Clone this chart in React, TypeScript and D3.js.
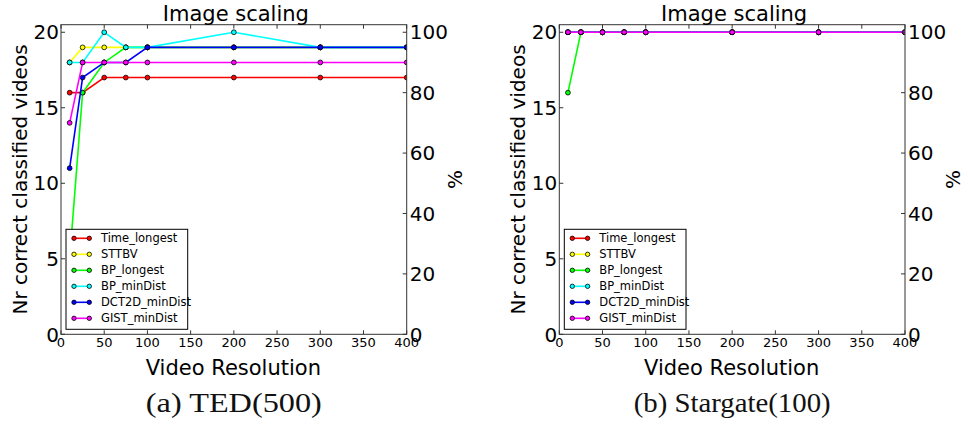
import * as d3 from 'd3';

// x positions (video resolution) shared by every series
const resolutions = [10, 25, 50, 75, 100, 200, 300, 400];
const seriesNames = ['Time_longest', 'STTBV', 'BP_longest', 'BP_minDist', 'DCT2D_minDist', 'GIST_minDist'];
const seriesColors = ['#ff0000', '#ffff00', '#00ff00', '#00ffff', '#0000ff', '#ff00ff'];

// (a) TED(500)
const tedTimeLongest = [16, 16, 17, 17, 17, 17, 17, 17];
const tedSTTBV = [18, 19, 19, 19, 19, 19, 19, 19];
const tedBPLongest = [5, 16, 18, 19, 19, 19, 19, 19];
const tedBPMinDist = [18, 18, 20, 19, 19, 20, 19, 19];
const tedDCT2DMinDist = [11, 17, 18, 18, 19, 19, 19, 19];
const tedGISTMinDist = [14, 18, 18, 18, 18, 18, 18, 18];

// (b) Stargate(100)
const sgTimeLongest = [20, 20, 20, 20, 20, 20, 20, 20];
const sgSTTBV = [20, 20, 20, 20, 20, 20, 20, 20];
const sgBPLongest = [16, 20, 20, 20, 20, 20, 20, 20];
const sgBPMinDist = [20, 20, 20, 20, 20, 20, 20, 20];
const sgDCT2DMinDist = [20, 20, 20, 20, 20, 20, 20, 20];
const sgGISTMinDist = [20, 20, 20, 20, 20, 20, 20, 20];

const xTicks = [0, 50, 100, 150, 200, 250, 300, 350, 400];
const yTicks = [0, 5, 10, 15, 20];
const pctTicks = [0, 20, 40, 60, 80, 100];

const sans = 'DejaVu Sans, sans-serif';

interface PanelProps {
  left: number;
  series: number[][];
  caption: string;
  captionLength: number;
}

function Panel({ left, series, caption, captionLength }: PanelProps) {
  const right = left + 345.7;
  const top = 24.7;
  const bottom = 334.3;
  const x = d3.scaleLinear().domain([0, 400]).range([left, right]);
  const y = d3.scaleLinear().domain([0, 20.5]).range([bottom, top]);
  const yPct = d3.scaleLinear().domain([0, 102.5]).range([bottom, top]);
  const line = d3.line<number>()
    .x((_, i) => x(resolutions[i]))
    .y(d => y(d));
  const cx = (left + right) / 2;
  const tick = 4;

  // legend layout
  const lgX = left + 5;
  const lgY = 229.3;
  const lgW = 121.7;
  const lgH = 100;

  return (
    <g>
      <defs>
        <clipPath id={`clip-${left}`}>
          <rect x={left} y={top} width={right - left} height={bottom - top} />
        </clipPath>
      </defs>

      {/* series */}
      <g clipPath={`url(#clip-${left})`}>
        {series.map((vals, s) => (
          <g key={s}>
            <path d={line(vals) || ''} fill="none" stroke={seriesColors[s]} strokeWidth={1.6} />
            {vals.map((v, i) => (
              <circle key={i} cx={x(resolutions[i])} cy={y(v)} r={2.4}
                fill={seriesColors[s]} stroke="#000" strokeWidth={0.8} />
            ))}
          </g>
        ))}
      </g>

      {/* frame */}
      <rect x={left} y={top} width={right - left} height={bottom - top} fill="none" stroke="#333" strokeWidth={1} />

      {/* x ticks, bottom and top */}
      {xTicks.map(t => (
        <g key={t}>
          <line x1={x(t)} x2={x(t)} y1={bottom} y2={bottom - tick} stroke="#333" />
          <line x1={x(t)} x2={x(t)} y1={top} y2={top + tick} stroke="#333" />
          <text x={x(t)} y={346.5} textAnchor="middle" fontFamily={sans} fontSize={13} fill="#000">{t}</text>
        </g>
      ))}

      {/* left y ticks */}
      {yTicks.map(t => (
        <g key={t}>
          <line x1={left} x2={left + tick} y1={y(t)} y2={y(t)} stroke="#333" />
          <text x={left - 2} y={y(t)} dy="0.36em" textAnchor="end" fontFamily={sans} fontSize={20} fill="#000">{t}</text>
        </g>
      ))}

      {/* right % ticks */}
      {pctTicks.map(t => (
        <g key={t}>
          <line x1={right} x2={right - tick} y1={yPct(t)} y2={yPct(t)} stroke="#333" />
          <text x={right + 3} y={yPct(t)} dy="0.36em" textAnchor="start" fontFamily={sans} fontSize={20} fill="#000">{t}</text>
        </g>
      ))}

      {/* titles */}
      <text x={cx + 2} y={21} textAnchor="middle" fontFamily={sans} fontSize={21} fill="#000">Image scaling</text>
      <text x={cx - 0.5} y={375} textAnchor="middle" fontFamily={sans} fontSize={21} fill="#000">Video Resolution</text>
      <text transform={`translate(${left - 34},${(top + bottom) / 2}) rotate(-90)`} textAnchor="middle"
        fontFamily={sans} fontSize={20} fill="#000">Nr correct classified videos</text>
      <text transform={`translate(${right + 55},${(top + bottom) / 2}) rotate(-90)`} textAnchor="middle"
        fontFamily={sans} fontSize={20} fill="#000">%</text>

      {/* legend */}
      <rect x={lgX} y={lgY} width={lgW} height={lgH} fill="#fff" stroke="#000" strokeWidth={1} />
      {seriesNames.map((name, i) => {
        const ly = lgY + 9 + i * 16;
        return (
          <g key={name}>
            <line x1={left + 13} x2={left + 28.3} y1={ly} y2={ly} stroke={seriesColors[i]} strokeWidth={1.6} />
            <circle cx={left + 13} cy={ly} r={2.2} fill={seriesColors[i]} stroke="#000" strokeWidth={0.8} />
            <circle cx={left + 28.3} cy={ly} r={2.2} fill={seriesColors[i]} stroke="#000" strokeWidth={0.8} />
            <text x={left + 40} y={ly} dy="0.35em" fontFamily={sans} fontSize={11.5} fill="#000">{name}</text>
          </g>
        );
      })}

      {/* caption */}
      <text x={cx} y={412} textAnchor="middle" fontFamily="Liberation Serif, serif" fontSize={27}
        textLength={captionLength} lengthAdjust="spacingAndGlyphs" fill="#111">{caption}</text>
    </g>
  );
}

export default function App() {
  const ted = [tedTimeLongest, tedSTTBV, tedBPLongest, tedBPMinDist, tedDCT2DMinDist, tedGISTMinDist];
  const sg = [sgTimeLongest, sgSTTBV, sgBPLongest, sgBPMinDist, sgDCT2DMinDist, sgGISTMinDist];
  return (
    <div style={{ position: 'absolute', left: 0, top: 0 }}>
      <svg width={968} height={427} style={{ display: 'block', background: '#fff' }}>
        <Panel left={61} series={ted} caption="(a) TED(500)" captionLength={176} />
        <Panel left={559.3} series={sg} caption="(b) Stargate(100)" captionLength={197} />
      </svg>
    </div>
  );
}
